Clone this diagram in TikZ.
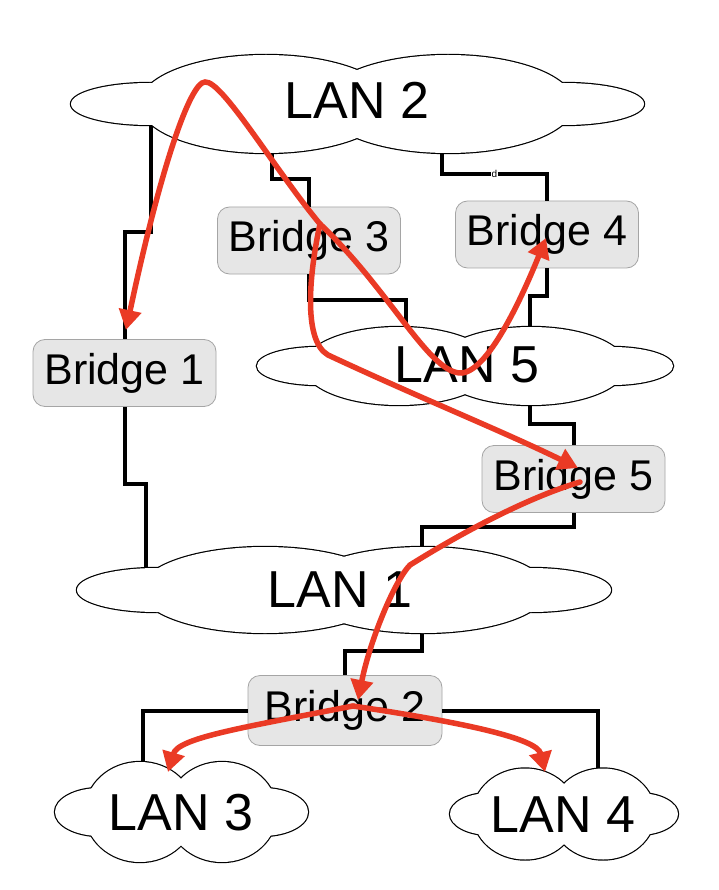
\documentclass[tikz,border=0pt]{standalone}
\usepackage{fontspec}
\setmainfont{Liberation Sans}
\usetikzlibrary{arrows.meta}
\definecolor{arrowred}{RGB}{234,58,37}
\definecolor{boxfill}{RGB}{230,230,230}
\definecolor{boxline}{RGB}{165,165,165}
\newcommand{\drawlan}[1]{%
  \foreach \ex/\ey/\erx/\ery in {#1} {\draw[line width=2.4pt] (\ex,\ey) ellipse [x radius=\erx pt, y radius=\ery pt];}%
  \foreach \ex/\ey/\erx/\ery in {#1} {\fill[white] (\ex,\ey) ellipse [x radius=\erx pt, y radius=\ery pt];}%
}
\tikzset{
  bridgebox/.style={draw=boxline, line width=0.8pt, fill=boxfill, rounded corners=12pt,
    minimum width=183pt, minimum height=67pt, inner sep=0pt, font=\fontsize{43}{43}\selectfont},
  lantext/.style={font=\fontsize{52}{52}\selectfont, inner sep=0pt, anchor=base},
  wire/.style={line width=4pt, line join=miter},
  dlabel/.style={fill=white, inner sep=1pt, font=\fontsize{10}{10}\selectfont},
  redarrow/.style={draw=arrowred, line width=5.5pt, line cap=round,
    -{Triangle[length=20pt,width=22pt]}},
}
\begin{document}
\begin{tikzpicture}[x=1pt,y=-1pt]
\fill[white] (0,0) rectangle (718,890);
\useasboundingbox (0,0) rectangle (718,890);

% bridges
\node[bridgebox] (b3) at (309,240.5) {Bridge 3};
\node[bridgebox] (b4) at (547,234.5) {Bridge 4};
\node[bridgebox] (b1) at (124.5,373) {Bridge 1};
\node[bridgebox] (b5) at (573.5,479) {Bridge 5};
\node[bridgebox, minimum width=194pt, minimum height=70pt] (b2) at (345,710.5) {Bridge 2};

% cloud connection points (inside the clouds)
\coordinate (l2a) at (151,112);
\coordinate (l2b) at (272,140);
\coordinate (l2c) at (442,140);
\coordinate (l5a) at (406,345);
\coordinate (l5b) at (530,345);
\coordinate (l5c) at (530,390);
\coordinate (l1a) at (146,578);
\coordinate (l1b) at (422,562);
\coordinate (l1c) at (422,618);
\coordinate (l3a) at (143,790);
\coordinate (l4a) at (598,790);

% black wires
\draw[wire] (l2a) -- (151,232) -| (b1.north);
\draw[wire] (b1.south) |- (146,484) -- (l1a);
\draw[wire] (l2b) -- (272,179) -| (b3.north);
\draw[wire] (b3.south) |- (406,300) -- (l5a);
\draw[wire] (l2c) -- (442,174) -| node[dlabel, pos=0.25] {d} (b4.north);
\draw[wire] (b4.south) |- (530,296) -- (l5b);
\draw[wire] (l5c) -- (530,424) -| (b5.north);
\draw[wire] (b5.south) |- (422,527) -- (l1b);
\draw[wire] (l1c) -- (422,651) -| (b2.north);
\draw[wire] (b2.west) -| (l3a);
\draw[wire] (b2.east) -| (l4a);

% clouds
\drawlan{150/104/79/21, 266/104/126/49, 448/104/126/49, 564/104/80/21}
\drawlan{318/366/61/19, 399/366/95/39, 531/366/95/39, 612/366/61/19}
\drawlan{157/590/80/22, 265/590/124/43, 423/590/124/43, 531/590/80/22}
\drawlan{100/812/45/24, 140/812/55/50, 222/812/55/50, 262/812/46/24}
\drawlan{490/814/40/21, 525/814/52/45.5, 603/814/52/45.5, 638/814/40/21}

% LAN labels
\node[lantext] (lan2) at (357,119) {LAN 2};
\node[lantext] (lan5) at (467,382) {LAN 5};
\node[lantext] (lan1) at (340,607) {LAN 1};
\node[lantext] (lan3) at (181,830) {LAN 3};
\node[lantext] (lan4) at (563,832) {LAN 4};

% red path points
\coordinate (rb3) at (320,224);
\coordinate (rpk) at (205,82);
\coordinate (rb1) at (126,330);
\coordinate (rv) at (462,373);
\coordinate (rb4) at (546,238);
\coordinate (rl5) at (328,355);
\coordinate (rb5) at (578,468);
\coordinate (rb5s) at (580,482);
\coordinate (rl1) at (410,565);
\coordinate (rb2) at (358,700);
\coordinate (rb2s) at (353,706);
\coordinate (rl3) at (168,772);
\coordinate (rl4) at (545,772);

% red arrows
\draw[redarrow] (rb3) .. controls (275,170) and (222,80) .. (rpk)
  .. controls (190,82) and (160,170) .. (rb1);
\draw[redarrow] (rb3) .. controls (390,290) and (430,375) .. (rv)
  .. controls (490,370) and (525,290) .. (rb4);
\draw[redarrow] (rb3) .. controls (310,270) and (302,340) .. (rl5)
  .. controls (420,398) and (500,430) .. (rb5);
\draw[redarrow] (rb5s) .. controls (520,500) and (450,540) .. (rl1)
  .. controls (395,580) and (370,640) .. (rb2);
\draw[redarrow] (rb2s) .. controls (240,728) and (178,738) .. (rl3);
\draw[redarrow] (rb2s) .. controls (460,722) and (537,738) .. (rl4);
\end{tikzpicture}
\end{document}
